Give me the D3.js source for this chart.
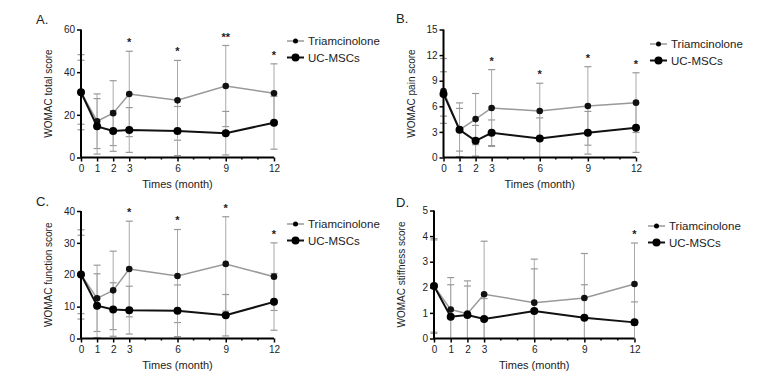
<!DOCTYPE html>
<html>
<head>
<meta charset="utf-8">
<script src="https://cdn.jsdelivr.net/npm/d3@7"></script>
<style>
  body { margin: 0; background: #fff; }
  text { font-family: "Liberation Sans", Arial, sans-serif; }
</style>
</head>
<body>
<div id="chart"></div>
<script>
const width = 782;
const height = 386;

// months on the x axis
const months = [0, 1, 2, 3, 6, 9, 12];
const seriesNames = ["Triamcinolone", "UC-MSCs"];

// WOMAC total score
const totalTri = [30.6, 17, 20.8, 29.8, 26.8, 33.5, 30.1];
const totalTriSd = [17.6, 12.8, 15.2, 20, 18.7, 19, 13.8];
const totalUc = [30.6, 14.6, 12.4, 12.9, 12.4, 11.4, 16.3];
const totalUcSd = [15, 13, 9.5, 10.5, 11.5, 10.2, 12.4];
const totalStars = ["", "", "", "*", "*", "**", "*"];

// WOMAC pain score
const painTri = [7.8, 3.25, 4.5, 5.8, 5.45, 6.04, 6.43];
const painTriSd = [3.8, 3.15, 3, 4.5, 3.25, 4.6, 3.5];
const painUc = [7.45, 3.25, 1.96, 2.9, 2.24, 2.9, 3.5];
const painUcSd = [2.6, 2.5, 1.8, 1.5, 2.4, 2.5, 2.9];
const painStars = ["", "", "", "*", "*", "*", "*"];

// WOMAC function score
const funcTri = [20.1, 12.6, 15.1, 21.8, 19.6, 23.4, 19.4];
const funcTriSd = [14, 10.4, 12.3, 15, 14.6, 14.8, 10.6];
const funcUc = [20.1, 10.3, 9.1, 8.9, 8.7, 7.3, 11.5];
const funcUcSd = [12.3, 10, 8.4, 7.5, 8.1, 6.5, 8.9];
const funcStars = ["", "", "", "*", "*", "*", "*"];

// WOMAC stiffness score
const stiffTri = [2.05, 1.13, 0.97, 1.73, 1.4, 1.58, 2.13];
const stiffTriSd = [1.85, 1.25, 1.28, 2.07, 1.7, 1.74, 1.6];
const stiffUc = [2.05, 0.85, 0.92, 0.76, 1.07, 0.81, 0.63];
const stiffUcSd = [1.8, 1.25, 1.13, 0.8, 1.65, 1.29, 0.8];
const stiffStars = ["", "", "", "", "", "", "*"];

const totalTicks = [0, 20, 40, 60];
const painTicks = [0, 3, 6, 9, 12, 15];
const funcTicks = [0, 10, 20, 30, 40];
const stiffTicks = [0, 1, 2, 3, 4, 5];

// panels (layout + data refs)
const panels = [
  { label: "A.", title: "WOMAC total score", left: 81, right: 274, top: 29.5, bottom: 157.5,
    ticks: totalTicks, tri: totalTri, triSd: totalTriSd, uc: totalUc, ucSd: totalUcSd, stars: totalStars,
    labelX: 36, labelY: 24, legX: 287, legY: 41 },
  { label: "B.", title: "WOMAC pain score", left: 443.5, right: 636, top: 29.5, bottom: 157.5,
    ticks: painTicks, tri: painTri, triSd: painTriSd, uc: painUc, ucSd: painUcSd, stars: painStars,
    labelX: 396, labelY: 23, legX: 650, legY: 44 },
  { label: "C.", title: "WOMAC function score", left: 81, right: 274, top: 211, bottom: 338.5,
    ticks: funcTicks, tri: funcTri, triSd: funcTriSd, uc: funcUc, ucSd: funcUcSd, stars: funcStars,
    labelX: 36, labelY: 206, legX: 287, legY: 224 },
  { label: "D.", title: "WOMAC stiffness score", left: 434, right: 634.5, top: 210.5, bottom: 338.5,
    ticks: stiffTicks, tri: stiffTri, triSd: stiffTriSd, uc: stiffUc, ucSd: stiffUcSd, stars: stiffStars,
    labelX: 396, labelY: 207, legX: 648, legY: 226 }
];

const svg = d3.select("#chart")
  .append("svg")
  .attr("width", width)
  .attr("height", height);

panels.forEach(p => {
  const g = svg.append("g");
  const yMax = p.ticks[p.ticks.length - 1];

  const x = d3.scaleLinear().domain([0, 12]).range([p.left, p.right]);
  const y = d3.scaleLinear().domain([0, yMax]).range([p.bottom, p.top]);

  const clampY = v => y(Math.max(0, Math.min(yMax, v)));

  // error bars (gray) for both series
  const drawErr = (vals, sds) => {
    months.forEach((m, i) => {
      const hi = clampY(vals[i] + sds[i]);
      const lo = clampY(vals[i] - sds[i]);
      g.append("line")
        .attr("x1", x(m)).attr("x2", x(m))
        .attr("y1", hi).attr("y2", lo)
        .attr("stroke", "#aaa").attr("stroke-width", 1);
      [vals[i] + sds[i], vals[i] - sds[i]].forEach(v => {
        if (v < 0 || v > yMax) return;
        g.append("line")
          .attr("x1", x(m) - 3.5).attr("x2", x(m) + 3.5)
          .attr("y1", y(v)).attr("y2", y(v))
          .attr("stroke", "#999").attr("stroke-width", 1.2);
      });
    });
  };
  drawErr(p.tri, p.triSd);
  drawErr(p.uc, p.ucSd);

  const line = d3.line().x((d, i) => x(months[i])).y(d => y(d));

  // Triamcinolone: gray line, small black dots
  g.append("path")
    .attr("d", line(p.tri))
    .attr("fill", "none")
    .attr("stroke", "#999")
    .attr("stroke-width", 1.5);

  // UC-MSCs: black line, big dots
  g.append("path")
    .attr("d", line(p.uc))
    .attr("fill", "none")
    .attr("stroke", "#111")
    .attr("stroke-width", 2);

  g.selectAll(".dtri").data(p.tri).enter().append("circle")
    .attr("cx", (d, i) => x(months[i])).attr("cy", d => y(d))
    .attr("r", 3.3).attr("fill", "#111");
  g.selectAll(".duc").data(p.uc).enter().append("circle")
    .attr("cx", (d, i) => x(months[i])).attr("cy", d => y(d))
    .attr("r", 4).attr("fill", "#000");

  // significance stars
  months.forEach((m, i) => {
    if (!p.stars[i]) return;
    g.append("text")
      .attr("x", x(m))
      .attr("y", y(p.tri[i] + p.triSd[i]) - 5)
      .attr("text-anchor", "middle")
      .style("font-size", "11px")
      .style("font-weight", "bold")
      .style("fill", "#222")
      .text(p.stars[i]);
  });

  // axes
  const yAxis = d3.axisLeft(y).tickValues(p.ticks).tickFormat(d3.format("d")).tickSize(4).tickPadding(2);
  const ya = g.append("g").attr("transform", `translate(${p.left},0)`).call(yAxis);
  const xAxis = d3.axisBottom(x).tickValues(months).tickFormat(d3.format("d")).tickSize(4).tickPadding(3);
  const xa = g.append("g").attr("transform", `translate(0,${p.bottom})`).call(xAxis);

  // minor month ticks
  const minor = d3.range(0, 13).filter(m => !months.includes(m));
  xa.selectAll(".minor").data(minor).enter().append("line")
    .attr("x1", d => x(d)).attr("x2", d => x(d))
    .attr("y1", 0).attr("y2", 2)
    .attr("stroke", "#000").attr("stroke-width", 1.5);

  [ya, xa].forEach(a => {
    a.select(".domain").attr("stroke", "#000").attr("stroke-width", 2);
    a.selectAll(".tick line").attr("stroke", "#000").attr("stroke-width", 1.5);
    a.selectAll(".tick text")
      .style("font-family", "'Liberation Sans', Arial, sans-serif")
      .style("font-size", "10px")
      .style("fill", "#222");
  });
  ya.select(".domain").attr("d", `M0,${p.top}V${p.bottom}`);
  xa.select(".domain").attr("d", `M${p.left},0H${p.right}`);

  // axis titles
  g.append("text")
    .attr("x", (p.left + p.right) / 2)
    .attr("y", p.bottom + 30)
    .attr("text-anchor", "middle")
    .style("font-size", "11px")
    .style("fill", "#222")
    .text("Times (month)");

  g.append("text")
    .attr("transform", `translate(${p.left - 29},${(p.top + p.bottom) / 2}) rotate(-90)`)
    .attr("text-anchor", "middle")
    .style("font-size", "10px")
    .style("fill", "#222")
    .text(p.title);

  // panel label
  g.append("text")
    .attr("x", p.labelX)
    .attr("y", p.labelY)
    .style("font-size", "13px")
    .style("fill", "#222")
    .text(p.label);

  // legend
  seriesNames.forEach((name, k) => {
    const ly = p.legY + k * 16.5;
    g.append("line")
      .attr("x1", p.legX).attr("x2", p.legX + 17)
      .attr("y1", ly).attr("y2", ly)
      .attr("stroke", k === 0 ? "#999" : "#111")
      .attr("stroke-width", k === 0 ? 1.5 : 2);
    g.append("circle")
      .attr("cx", p.legX + 8.5).attr("cy", ly)
      .attr("r", k === 0 ? 2.5 : 4)
      .attr("fill", "#000");
    g.append("text")
      .attr("x", p.legX + 21)
      .attr("y", ly + 4)
      .style("font-size", "11.5px")
      .style("fill", "#222")
      .text(name);
  });
});
</script>
</body>
</html>
